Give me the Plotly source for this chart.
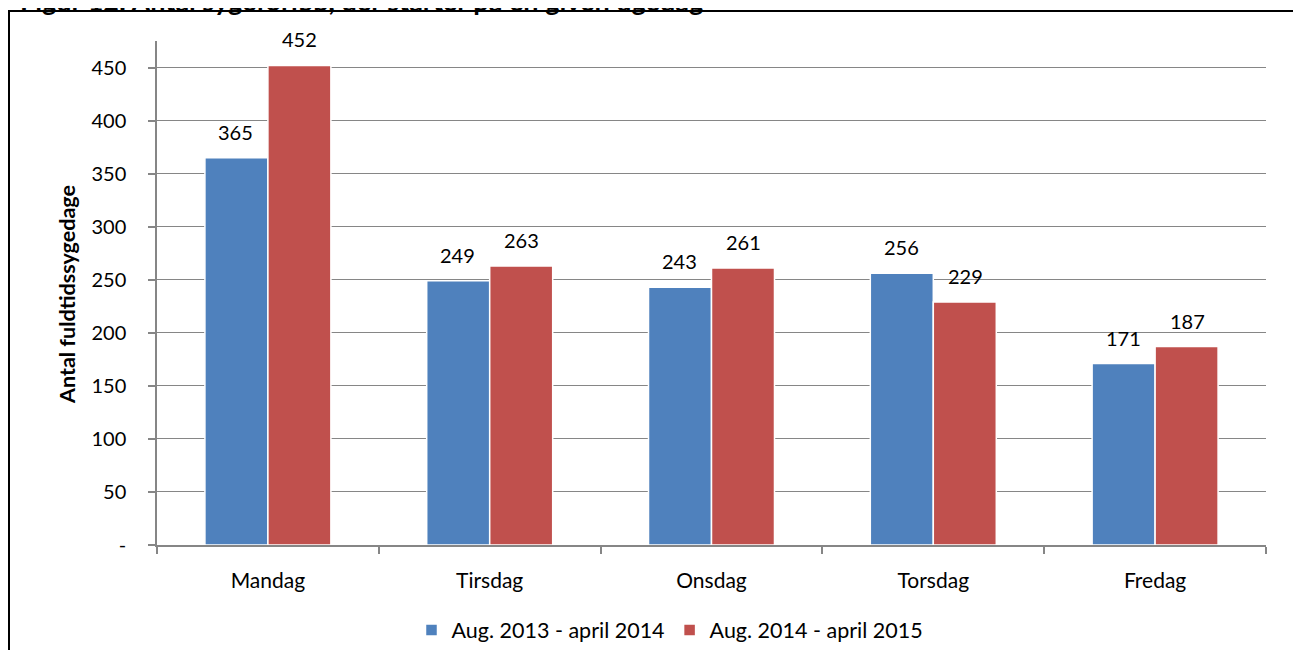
import plotly.graph_objects as go

# Weekday categories and the two periods
days = ["Mandag", "Tirsdag", "Onsdag", "Torsdag", "Fredag"]
period1_name = "Aug. 2013 - april 2014"
period2_name = "Aug. 2014 - april 2015"
period1 = [365, 249, 243, 256, 171]
period2 = [452, 263, 261, 229, 187]

y_ticks = [0, 50, 100, 150, 200, 250, 300, 350, 400, 450]
y_ticktext = ["-", "50", "100", "150", "200", "250", "300", "350", "400", "450"]

FONT = "Lato, 'Open Sans', sans-serif"
BLUE = "#4F81BD"
RED = "#C0504D"
GRID = "#868686"

# page has an 8px body margin, so the figure is 8px smaller than the window
FW, FH = 1293, 642
L, R, T, B = 149, 35, 33, 105
W, H = FW - L - R, FH - T - B


def px_x(p):
    return (p - L) / W


def px_y(p):
    return 1 - (p - T) / H


fig = go.Figure()
fig.add_trace(go.Bar(x=days, y=period1, name=period1_name,
                     marker=dict(color=BLUE, line=dict(color="white", width=1.5))))
fig.add_trace(go.Bar(x=days, y=period2, name=period2_name,
                     marker=dict(color=RED, line=dict(color="white", width=1.5))))

# data labels sit well above the bar tops, like the Excel original
labels = []
for vals, shift in [(period1, -32), (period2, 32)]:
    for d, v in zip(days, vals):
        labels.append(dict(x=d, y=v, text=str(v), showarrow=False,
                           xshift=shift, yshift=26, yanchor="middle",
                           font=dict(size=20, color="#000000")))

fig.update_layout(
    width=FW, height=FH,
    margin=dict(l=L, r=R, t=T, b=B, autoexpand=False),
    paper_bgcolor="white", plot_bgcolor="white",
    font=dict(family=FONT, size=20, color="#000000"),
    barmode="group", bargap=0.432, bargroupgap=0.0,
    showlegend=True,
    legend=dict(orientation="h", x=px_x(662), xanchor="center",
                y=px_y(622), yanchor="middle", font=dict(size=21.5),
                traceorder="normal"),
    shapes=[
        dict(type="line", xref="paper", yref="paper",
             x0=px_x(0), x1=px_x(FW), y0=px_y(3), y1=px_y(3),
             line=dict(color="black", width=2)),
        dict(type="line", xref="paper", yref="paper",
             x0=px_x(1), x1=px_x(1), y0=px_y(3), y1=px_y(FH + 2),
             line=dict(color="black", width=2)),
    ],
    annotations=labels + [
        dict(text="<b>Antal fuldtidssygedage</b>", textangle=-90,
             xref="paper", yref="paper", x=px_x(59), y=px_y(287),
             xanchor="center", yanchor="middle", showarrow=False,
             font=dict(size=21.5)),
        # figure caption, cut off by the top edge as in the source image
        dict(text="<b>Figur 12: Antal sygeforløb, der starter på en given ugedag</b>",
             xref="paper", yref="paper", x=px_x(10), y=px_y(11),
             xanchor="left", yanchor="bottom", showarrow=False,
             font=dict(size=27)),
    ],
)

fig.update_xaxes(showline=True, linecolor=GRID, linewidth=1.5,
                 ticks="outside", tickson="boundaries", ticklen=7,
                 tickcolor=GRID, tickwidth=1.5,
                 tickfont=dict(size=21), ticklabelstandoff=16, showgrid=False,
                 automargin=False)
fig.update_yaxes(range=[0, 475], tickvals=y_ticks, ticktext=y_ticktext,
                 showline=True, linecolor=GRID, linewidth=1.5,
                 ticks="outside", ticklen=7, tickcolor=GRID, tickwidth=1.5,
                 showgrid=True, gridcolor=GRID, gridwidth=1.2,
                 zeroline=False, tickfont=dict(size=20), ticklabelstandoff=18,
                 automargin=False)

fig.write_html("out.html")
